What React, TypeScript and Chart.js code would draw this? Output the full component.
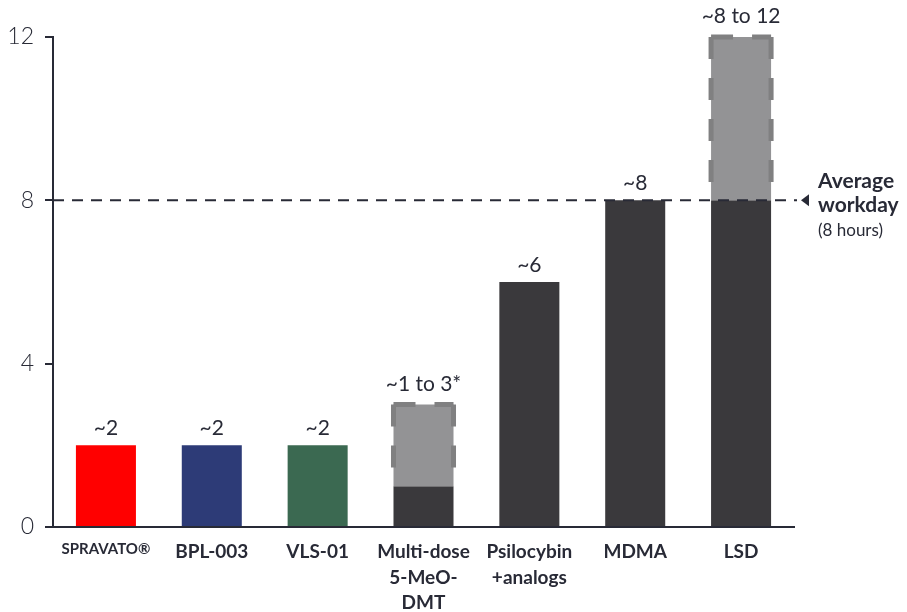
import React, { useEffect, useRef } from 'react';
import { Chart, registerables } from 'chart.js';

Chart.register(...registerables);

const categories: (string | string[])[] = [
  'SPRAVATO®',
  'BPL-003',
  'VLS-01',
  ['Multi-dose', '5-MeO-', 'DMT'],
  ['Psilocybin', '+analogs'],
  'MDMA',
  'LSD',
];
const solidValues = [2, 2, 2, 1, 6, 8, 8];
const rangeValues: ([number, number] | null)[] = [null, null, null, [1, 3], null, null, [8, 12]];
const valueLabels = ['~2', '~2', '~2', '~1 to 3*', '~6', '~8', '~8 to 12'];
const barColors = ['#ff0000', '#2d3b77', '#3b6951', '#3a393c', '#3a393c', '#3a393c', '#3a393c'];
const rangeColor = '#939395';
const averageWorkday = 8;
const annotationLines = ['Average', 'workday', '(8 hours)'];
const yMin = 0;
const yMax = 12;
const yStep = 4;

const TEXT = '#282a36';
const FONT = 'Lato, "Noto Sans", sans-serif';

const overlayPlugin = {
  id: 'overlay',
  afterDatasetsDraw(chart: any) {
    const ctx = chart.ctx as CanvasRenderingContext2D;
    const { chartArea, scales } = chart;
    const yScale = scales.y;
    const meta0 = chart.getDatasetMeta(0);
    const meta1 = chart.getDatasetMeta(1);

    // dashed borders for range bars
    ctx.save();
    ctx.strokeStyle = '#808081';
    ctx.lineWidth = 5;
    ctx.setLineDash([22, 19]);
    meta1.data.forEach((el: any, i: number) => {
      if (!rangeValues[i]) return;
      const p = el.getProps(['x', 'y', 'base', 'width'], true);
      const l = p.x - p.width / 2;
      const r = p.x + p.width / 2;
      const top = Math.min(p.y, p.base);
      const bottom = Math.max(p.y, p.base);
      ctx.beginPath();
      ctx.moveTo(l, top);
      ctx.lineTo(r, top);
      ctx.stroke();
      ctx.beginPath();
      ctx.moveTo(l, top);
      ctx.lineTo(l, bottom);
      ctx.stroke();
      ctx.beginPath();
      ctx.moveTo(r, top);
      ctx.lineTo(r, bottom);
      ctx.stroke();
    });
    ctx.restore();

    // average workday line
    const ly = yScale.getPixelForValue(averageWorkday);
    ctx.save();
    ctx.strokeStyle = TEXT;
    ctx.lineWidth = 2;
    ctx.setLineDash([11, 8]);
    ctx.beginPath();
    ctx.moveTo(chartArea.left, ly);
    ctx.lineTo(chartArea.right + 3, ly);
    ctx.stroke();
    ctx.setLineDash([]);
    ctx.fillStyle = TEXT;
    ctx.beginPath();
    ctx.moveTo(chartArea.right + 7, ly);
    ctx.lineTo(chartArea.right + 15, ly - 6);
    ctx.lineTo(chartArea.right + 15, ly + 6);
    ctx.closePath();
    ctx.fill();

    // annotation text
    const ax = chartArea.right + 24;
    ctx.textAlign = 'left';
    ctx.textBaseline = 'alphabetic';
    ctx.font = `bold 21px ${FONT}`;
    ctx.fillText(annotationLines[0], ax, ly - 12);
    ctx.fillText(annotationLines[1], ax, ly + 12);
    ctx.font = `400 17px ${FONT}`;
    ctx.fillText(annotationLines[2], ax, ly + 36);

    // value labels
    ctx.font = `400 21px ${FONT}`;
    ctx.textAlign = 'center';
    valueLabels.forEach((label, i) => {
      const e0 = meta0.data[i] as any;
      let top = e0.getProps(['y'], true).y;
      const cx = e0.getProps(['x'], true).x;
      let gap = 10;
      if (rangeValues[i]) {
        const e1 = meta1.data[i] as any;
        const p1 = e1.getProps(['y', 'base'], true);
        top = Math.min(top, p1.y, p1.base);
        gap = 14;
      }
      ctx.fillText(label, cx, top - gap);
    });
    ctx.restore();
  },
};

export default function App() {
  const canvasRef = useRef<HTMLCanvasElement | null>(null);

  useEffect(() => {
    document.body.style.margin = '0';
    const canvas = canvasRef.current;
    if (!canvas) return;
    const chart = new Chart(canvas, {
      type: 'bar',
      data: {
        labels: categories,
        datasets: [
          {
            data: solidValues,
            backgroundColor: barColors,
            borderWidth: 0,
            grouped: false,
            barPercentage: 0.567,
            categoryPercentage: 1,
            order: 2,
          } as any,
          {
            data: rangeValues as any,
            backgroundColor: rangeColor,
            borderWidth: 0,
            grouped: false,
            barPercentage: 0.567,
            categoryPercentage: 1,
            order: 1,
          } as any,
        ],
      },
      options: {
        animation: false,
        responsive: false,
        maintainAspectRatio: false,
        layout: { padding: { top: 37, right: 113, left: 0, bottom: 0 } },
        plugins: {
          legend: { display: false },
          tooltip: { enabled: false },
        },
        scales: {
          x: {
            grid: { display: false, drawTicks: false },
            border: { display: true, color: TEXT, width: 2 },
            ticks: {
              color: TEXT,
              padding: 12,
              maxRotation: 0,
              autoSkip: false,
              font: (c: any) =>
                c.index === 0
                  ? { family: FONT, size: 15, weight: 'bold', lineHeight: 1.35 }
                  : { family: FONT, size: 19, weight: 'bold', lineHeight: 1.35 },
            },
            afterFit: (s: any) => {
              s.height = 85;
            },
          },
          y: {
            min: yMin,
            max: yMax,
            grid: {
              display: true,
              drawOnChartArea: false,
              drawTicks: true,
              tickLength: 8,
              color: TEXT,
              lineWidth: 2,
            },
            border: { display: true, color: TEXT, width: 2 },
            ticks: {
              stepSize: yStep,
              color: TEXT,
              padding: 11,
              font: { family: FONT, size: 23, weight: '300' },
            },
            afterFit: (s: any) => {
              s.width = 53;
            },
          },
        },
      },
      plugins: [overlayPlugin],
    });
    return () => chart.destroy();
  }, []);

  return (
    <div style={{ position: 'absolute', left: 0, top: 0, width: 907, height: 612, background: '#fff' }}>
      <canvas ref={canvasRef} width={907} height={612} />
    </div>
  );
}
